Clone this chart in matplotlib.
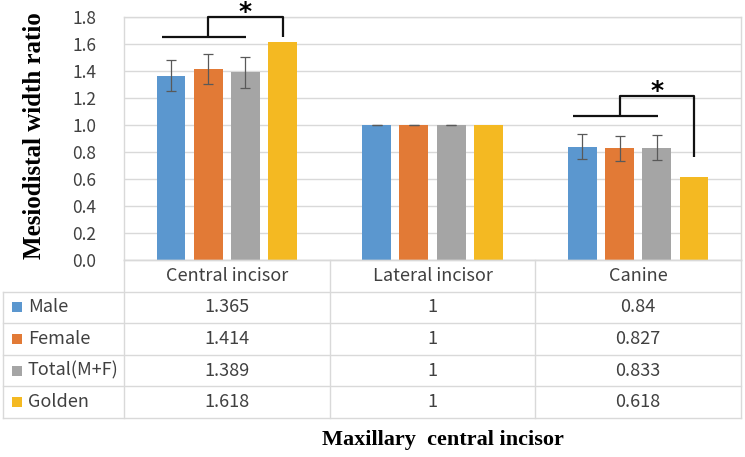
import matplotlib
matplotlib.use("Agg")
import matplotlib.pyplot as plt
import numpy as np

# data
categories = ['Central incisor', 'Lateral incisor', 'Canine']
groups = ['Male', 'Female', 'Total(M+F)', 'Golden']
male = [1.365, 1, 0.84]
female = [1.414, 1, 0.827]
total = [1.389, 1, 0.833]
golden = [1.618, 1, 0.618]
male_sd = [0.115, 0, 0.09]
female_sd = [0.11, 0, 0.09]
total_sd = [0.115, 0, 0.09]
yticks = [0.0, 0.2, 0.4, 0.6, 0.8, 1.0, 1.2, 1.4, 1.6, 1.8]

values = [male, female, total, golden]
errors = [male_sd, female_sd, total_sd, None]
colors = ['#5b97cf', '#e27a36', '#a5a5a5', '#f4b922']
grid_c = '#d9d9d9'
sans = ['Noto Sans CJK KR', 'DejaVu Sans']
serif = 'Liberation Serif'

W, H = 745, 457
fig = plt.figure(figsize=(W / 100, H / 100), dpi=100)
ax = fig.add_axes([124 / W, 1 - 260 / H, 617 / W, 243 / H])

x = np.arange(len(categories))
step, width = 0.181, 0.14
offsets = (np.arange(len(groups)) - 1.5) * step

for i, (vals, err, c) in enumerate(zip(values, errors, colors)):
    ax.bar(x + offsets[i], vals, width, color=c, zorder=2)
    if err is not None:
        ax.errorbar(x + offsets[i], vals, yerr=err, fmt='none', ecolor='#595959',
                    elinewidth=0.9, capsize=3.5, capthick=0.9, zorder=3)

ax.set_xlim(-0.5, len(categories) - 0.5)
ax.set_ylim(0, 1.8)
ax.set_yticks(yticks)
ax.set_yticklabels([f'{t:.1f}' for t in yticks], family=sans, fontsize=12.5, color='#404040')
ax.tick_params(axis='y', length=0, pad=20)
ax.set_xticks([])
ax.grid(axis='y', color=grid_c, linewidth=1, zorder=0)
ax.set_axisbelow(True)
for s in ax.spines.values():
    s.set_color(grid_c)
    s.set_linewidth(1)

# significance brackets
def bracket(cat, y_low, y_top, y_drop):
    cx = cat + offsets
    kw = dict(color='#111111', linewidth=1.6, clip_on=False, zorder=4,
              solid_capstyle='butt')
    ax.plot([cx[0] - 0.045, cx[2] + 0.005], [y_low, y_low], **kw)
    ax.plot([cx[1], cx[1], cx[3], cx[3]], [y_low, y_top, y_top, y_drop], **kw)
    ax.text(cx[2], y_top + 0.035, '*', ha='center', va='center', fontsize=18,
            fontweight='bold', family='DejaVu Sans', clip_on=False)

bracket(0, 1.652, 1.80, 1.652)
bracket(2, 1.067, 1.215, 0.763)

# data table below the chart
tab = fig.add_axes([3 / W, 1 - 418 / H, 738 / W, 158 / H])
left = -0.5 - 121 / 205.7
tab.set_xlim(left, len(categories) - 0.5)
tab.set_ylim(len(groups) + 1, 0)
tab.axis('off')
lw = 1
for r in range(1, len(groups) + 2):
    tab.plot([left, len(categories) - 0.5], [r, r], color=grid_c, lw=lw, clip_on=False)
tab.plot([-0.5, len(categories) - 0.5], [0, 0], color=grid_c, lw=lw, clip_on=False)
tab.plot([left, left], [1, len(groups) + 1], color=grid_c, lw=lw, clip_on=False)
for b in np.arange(-0.5, len(categories)):
    tab.plot([b, b], [0, len(groups) + 1], color=grid_c, lw=lw, clip_on=False)

for j, cat in enumerate(categories):
    tab.text(j, 0.5, cat, ha='center', va='center', family=sans, fontsize=13,
             color='#404040')
for i, (g, vals, c) in enumerate(zip(groups, values, colors)):
    row = i + 1.5
    tab.scatter([left + 14 / 205.7], [row], marker='s', s=60, color=c,
                linewidths=0, clip_on=False)
    tab.text(left + 25 / 205.7, row, g, ha='left', va='center', family=sans,
             fontsize=13, color='#404040')
    for j, v in enumerate(vals):
        tab.text(j, row, f'{v:g}', ha='center', va='center', family=sans,
                 fontsize=13, color='#404040')

fig.text(35 / W, 1 - 136 / H, 'Mesiodistal width ratio', rotation=90, ha='center',
         va='center', family=serif, fontweight='bold', fontsize=18)
fig.text(443 / W, 1 - 440 / H, 'Maxillary  central incisor', ha='center', va='center',
         family=serif, fontweight='bold', fontsize=16)

fig.savefig('out.png', dpi=100)
